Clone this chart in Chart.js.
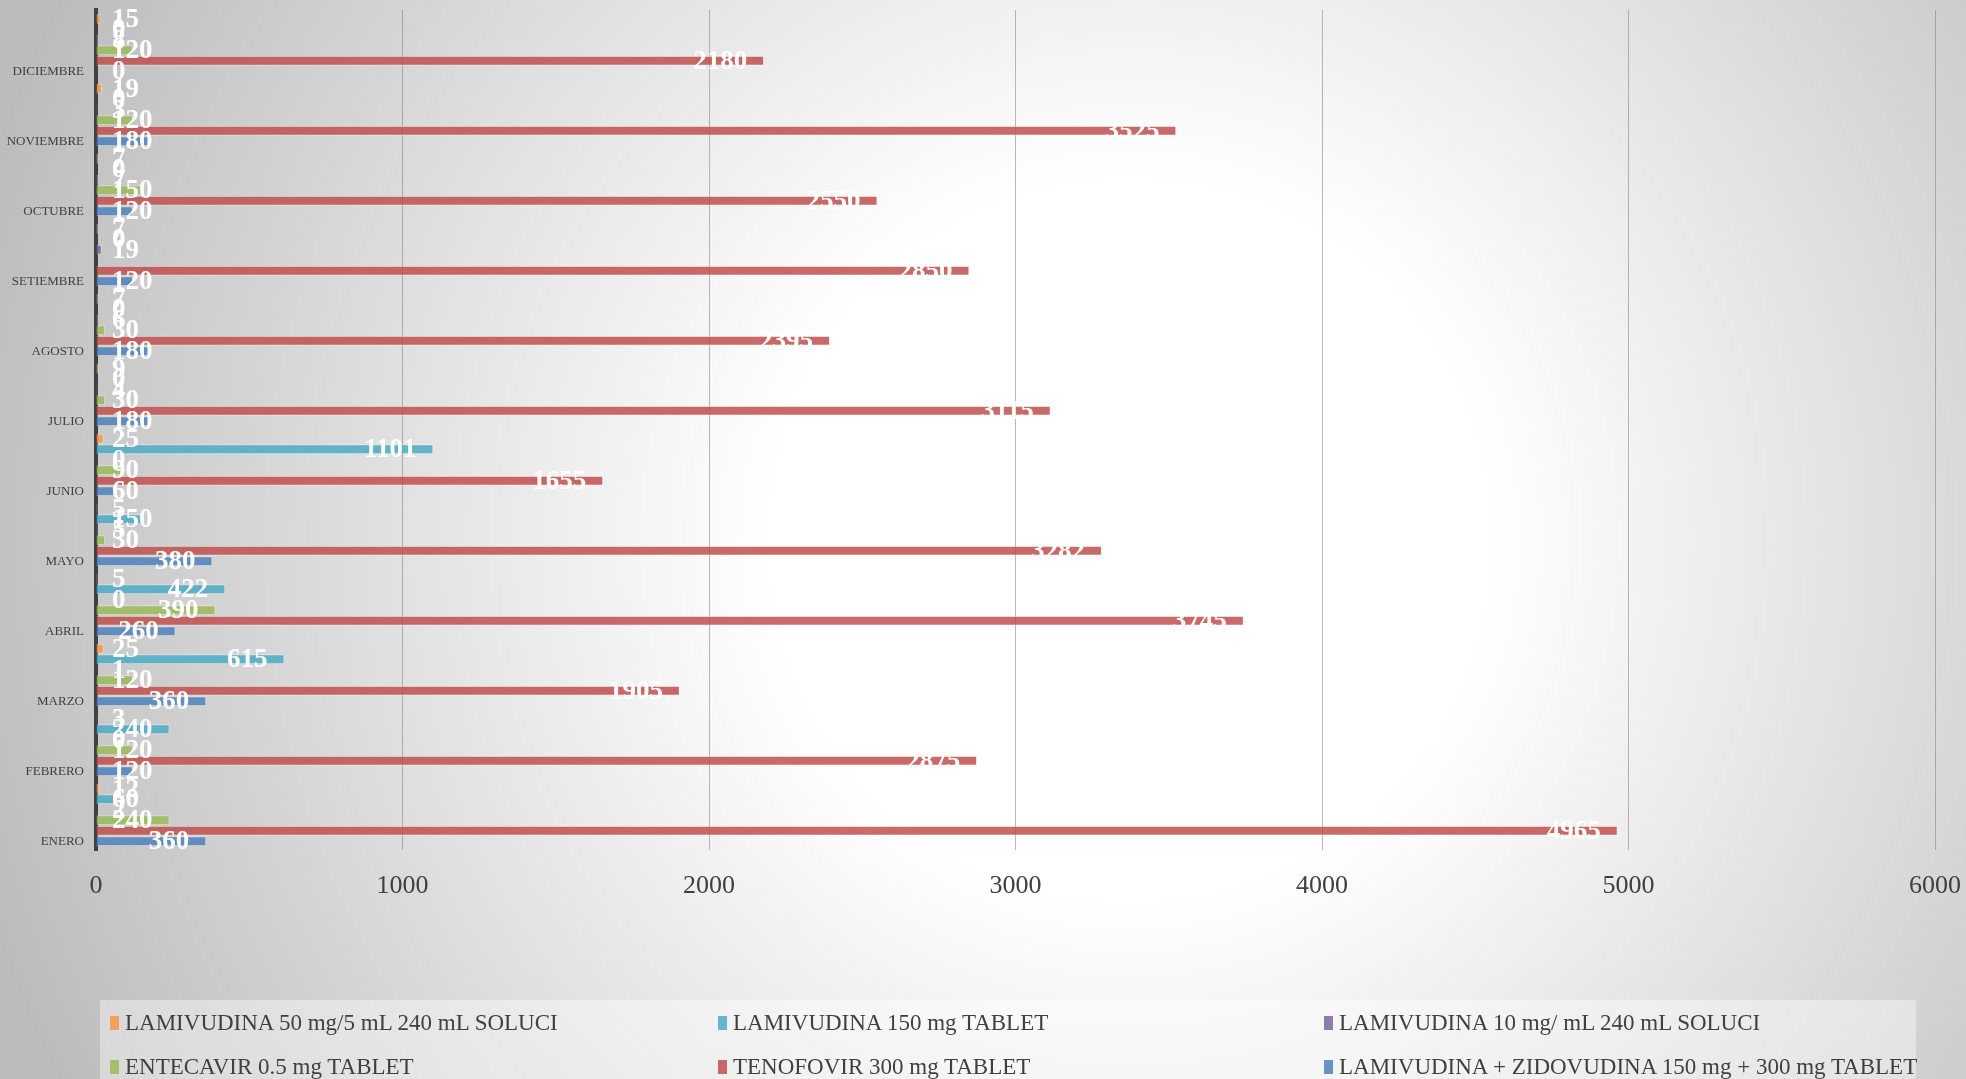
<!DOCTYPE html>
<html>
<head>
<meta charset="utf-8">
<script src="https://cdn.jsdelivr.net/npm/chart.js@4.4.1/dist/chart.umd.min.js"></script>
<style>
  html, body { margin: 0; padding: 0; }
  body {
    width: 1966px; height: 1079px; overflow: hidden;
    background: radial-gradient(circle 1200px at 1130px 540px, #ffffff 0%, #ffffff 30%, #bcbcbc 100%);
    font-family: 'Liberation Serif', serif;
  }
  #wrap { position: relative; width: 1966px; height: 1079px; }
  #legend {
    position: absolute; left: 100px; top: 1000px; width: 1816px; height: 79px;
    background: rgba(255,255,255,0.4);
  }
  .item { position: absolute; display: flex; align-items: center; font-size: 23px; color: #404040; white-space: nowrap; }
  .key { width: 9px; height: 14px; margin-right: 6px; }
</style>
</head>
<body>
<div id="wrap">
  <canvas id="chart" width="1966" height="1079"></canvas>
  <div id="legend"></div>
</div>
<script>
// meses (de abajo hacia arriba)
var meses = ['ENERO', 'FEBRERO', 'MARZO', 'ABRIL', 'MAYO', 'JUNIO', 'JULIO', 'AGOSTO', 'SETIEMBRE', 'OCTUBRE', 'NOVIEMBRE', 'DICIEMBRE'];

// nombres de los productos
var productos = [
  'LAMIVUDINA 50 mg/5 mL 240 mL SOLUCI',
  'LAMIVUDINA 150 mg  TABLET',
  'LAMIVUDINA 10 mg/ mL 240 mL SOLUCI',
  'ENTECAVIR 0.5 mg  TABLET',
  'TENOFOVIR 300 mg  TABLET',
  'LAMIVUDINA + ZIDOVUDINA 150 mg + 300 mg  TABLET'
];

// consumo por mes
var lamivudina50 = [12, 3, 25, 5, 5, 25, 9, 7, 7, 7, 19, 15];
var lamivudina150 = [60, 240, 615, 422, 150, 1101, 0, 0, 0, 0, 0, 0];
var lamivudina10 = [2, 0, 1, 0, 5, 0, 4, 6, 19, 7, 3, 8];
var entecavir = [240, 120, 120, 390, 30, 90, 30, 30, null, 150, 120, 120];
var tenofovir = [4965, 2875, 1905, 3745, 3282, 1655, 3115, 2395, 2850, 2550, 3525, 2180];
var lamiZido = [360, 120, 360, 260, 380, 60, 180, 180, 120, 120, 180, 0];

// ticks del eje x
var ticksX = [0, 1000, 2000, 3000, 4000, 5000, 6000];

var colores = ['#F79646', '#4BACC6', '#8064A2', '#9BBB59', '#C0504D', '#4F81BD'];
var series = [lamivudina50, lamivudina150, lamivudina10, entecavir, tenofovir, lamiZido];

function alpha(hex, a) {
  var n = parseInt(hex.slice(1), 16);
  return 'rgba(' + (n >> 16) + ',' + ((n >> 8) & 255) + ',' + (n & 255) + ',' + a + ')';
}

// etiquetas blancas al final de cada barra
var etiquetas = {
  id: 'etiquetas',
  afterDatasetsDraw: function (chart) {
    var ctx = chart.ctx;
    var x0 = chart.scales.x.getPixelForValue(0);
    ctx.save();
    ctx.font = 'bold 27px "Liberation Serif", serif';
    ctx.fillStyle = '#ffffff';
    ctx.textBaseline = 'middle';
    ctx.textAlign = 'left';
    chart.data.datasets.forEach(function (ds, i) {
      var meta = chart.getDatasetMeta(i);
      meta.data.forEach(function (bar, j) {
        var v = ds.data[j];
        if (v === null || v === undefined) return;
        var txt = String(v);
        var w = ctx.measureText(txt).width;
        var x = Math.max(bar.x - 17 - w, x0 + 16);
        ctx.fillText(txt, x, bar.y + 1);
      });
    });
    ctx.restore();
  }
};

var ctx = document.getElementById('chart').getContext('2d');
var chart = new Chart(ctx, {
  type: 'bar',
  data: {
    labels: meses,
    datasets: series.map(function (s, i) {
      return {
        label: productos[i],
        data: s,
        backgroundColor: alpha(colores[i], 0.85),
        borderColor: 'rgba(255,255,255,0.4)',
        borderWidth: 1,
        categoryPercentage: 0.9,
        barPercentage: 0.95
      };
    })
  },
  options: {
    indexAxis: 'y',
    responsive: false,
    animation: false,
    layout: { padding: { top: 10, left: 0, right: 31, bottom: 179 } },
    plugins: { legend: { display: false }, tooltip: { enabled: false } },
    scales: {
      x: {
        min: 0,
        max: 6000,
        afterBuildTicks: function (scale) {
          scale.ticks = ticksX.map(function (v) { return { value: v }; });
        },
        afterFit: function (scale) {
          scale.height = 50;
          scale.paddingLeft = 0;
          scale.paddingRight = 0;
        },
        grid: { color: 'rgba(128,128,128,0.55)', lineWidth: 1, drawTicks: false },
        border: { display: false },
        ticks: {
          color: '#404040',
          padding: 21,
          callback: function (v) { return String(v); },
          font: { family: "'Liberation Serif', serif", size: 26 }
        }
      },
      y: {
        reverse: true,
        afterFit: function (scale) {
          scale.width = 96;
          scale.paddingTop = 0;
          scale.paddingBottom = 0;
        },
        grid: { display: false },
        border: { color: '#404040', width: 4 },
        ticks: {
          color: '#404040',
          padding: 4,
          labelOffset: 27,
          font: { family: "'Liberation Serif', serif", size: 13 }
        }
      }
    }
  },
  plugins: [etiquetas]
});

// leyenda en tres columnas
var leyenda = document.getElementById('legend');
var posX = [10, 618, 1224];
var posY = [24, 68];
productos.forEach(function (p, i) {
  var d = document.createElement('div');
  d.className = 'item';
  d.style.left = posX[i % 3] + 'px';
  d.style.top = (posY[Math.floor(i / 3)] - 14) + 'px';
  d.innerHTML = '<span class="key" style="background:' + alpha(colores[i], 0.85) + '"></span><span>' + p + '</span>';
  leyenda.appendChild(d);
});
</script>
</body>
</html>
